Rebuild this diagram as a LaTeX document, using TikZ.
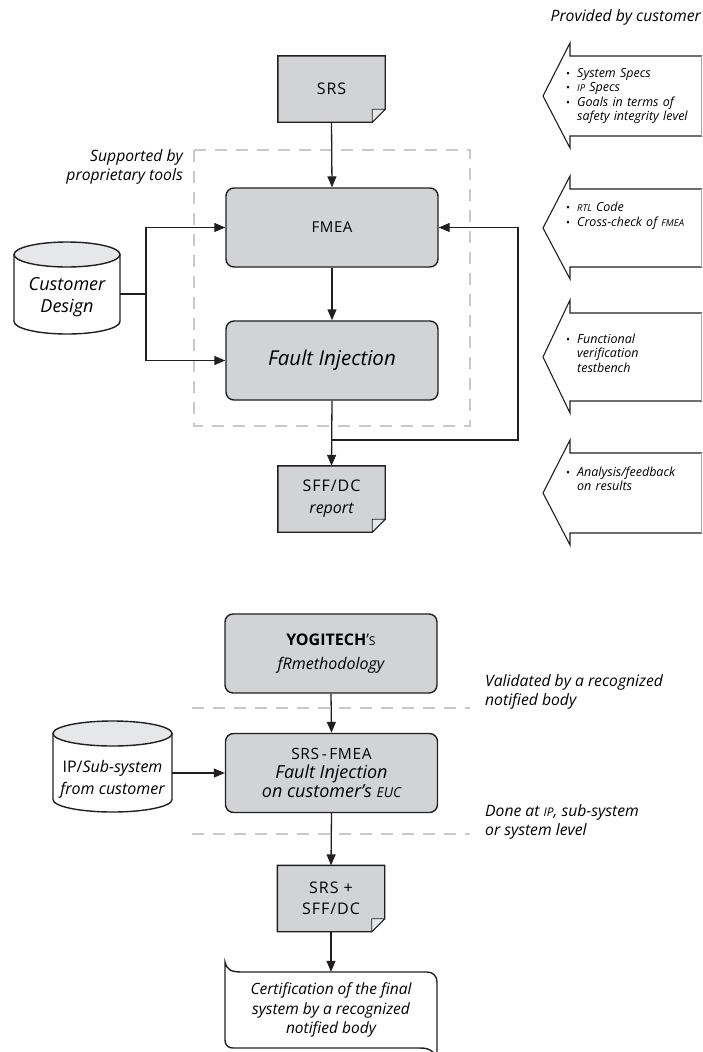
\documentclass[tikz,border=0pt]{standalone}
\usepackage{fontspec}
\usepackage{graphicx}
\setmainfont{Open Sans}
\usetikzlibrary{arrows.meta,backgrounds}
\definecolor{ink}{HTML}{231F20}
\definecolor{boxgray}{HTML}{D1D3D4}
\definecolor{lightfill}{HTML}{E6E7E8}
\definecolor{dashgray}{HTML}{C8C9CA}
\definecolor{edgegray}{HTML}{A7A9AC}
\newcommand\smc[1]{\scalebox{0.76}{#1}}
\newcommand\capsfont{\fontsize{16}{21}\selectfont\addfontfeatures{LetterSpace=6}}
\newcommand\notefont{\fontsize{15.7}{19}\selectfont\itshape}
\newcommand\arrfont{\fontsize{12.5}{14.5}\selectfont\itshape}
\newcommand\bul{\makebox[12pt][l]{\hspace{1pt}{\upshape\scalebox{0.85}{\textbullet}}}}
\newcommand\bitem[1]{\noindent\bul\parbox[t]{120pt}{\raggedright #1}\par}
\newcommand\docshape[1]{%
  \begin{scope}[on background layer]
    \filldraw[docline] (#1.north west) -- (#1.north east) -- ([yshift=13pt]#1.south east)
      -- ([xshift=-13pt]#1.south east) -- (#1.south west) -- cycle;
    \filldraw[foldline] ([xshift=-13pt]#1.south east) -- ([xshift=-13pt,yshift=13pt]#1.south east)
      -- ([yshift=13pt]#1.south east) -- cycle;
  \end{scope}}
\newcommand\blockarrow[2]{%
  \draw[blockline] (702,#1) -- (570,#1) -- (570,#1-13) -- (543,{(#1+#2)/2}) -- (570,#2+12) -- (570,#2) -- (702,#2);
  \draw[edgeline] (701.5,#1) -- (701.5,#2);}
\tikzset{
  box/.style={draw=ink, fill=boxgray, line width=1.4pt, rounded corners=8pt,
    minimum width=212pt, minimum height=79pt, align=center, inner sep=0pt},
  docnode/.style={minimum width=107pt, minimum height=66pt, align=center, inner sep=0pt},
  docline/.style={draw=ink, fill=boxgray, line width=1.4pt},
  foldline/.style={draw=ink, fill=lightfill, line width=0.8pt},
  cylline/.style={draw=ink, line width=1.4pt},
  arr/.style={draw=ink, line width=1.3pt, -{Triangle[length=11pt,width=9pt]}},
  conn/.style={draw=ink, line width=1.3pt},
  gdash/.style={draw=dashgray, line width=2pt, dash pattern=on 12pt off 9pt},
  blockline/.style={draw=ink, line width=1.1pt},
  edgeline/.style={draw=edgegray, line width=0.8pt},
  note/.style={font=\notefont, inner sep=0pt},
  arrtext/.style={font=\arrfont, inner sep=0pt, text width=132pt, anchor=west},
}
\begin{document}
\begin{tikzpicture}[x=1pt,y=-1pt]
\useasboundingbox (0,0) rectangle (702,1052);

% ---------- upper part ----------
\node[note, anchor=east] (prov) at (701,17) {Provided by customer};
\node[note, anchor=east, align=right] (supp) at (183,167) {Supported by\\proprietary tools};
\draw[gdash] (194,150) rectangle (470,426);

\node[docnode, font=\capsfont] (srs) at (331.5,89) {SRS};
\docshape{srs}
\node[box, font=\fontsize{15}{20}\selectfont\addfontfeatures{LetterSpace=4}] (fmea) at (332,227.5) {FMEA};
\node[box, font=\fontsize{20.5}{24}\selectfont\itshape] (fi) at (332,360.5) {Fault Injection};
\node[docnode, font=\fontsize{16}{22}\selectfont] (sff) at (331.5,499) {{\addfontfeatures{LetterSpace=6}SFF/DC}\\{\itshape report}};
\docshape{sff}

% cylinder: Customer Design
\filldraw[cylline, fill=white] (14,254.5) -- (14,321.5)
  arc[start angle=180, end angle=360, x radius=53pt, y radius=12.5pt] -- (120,254.5) -- cycle;
\filldraw[cylline, fill=lightfill] (67,254.5) ellipse [x radius=53pt, y radius=12.5pt];
\node[minimum width=106pt, inner sep=0pt, align=center, font=\fontsize{18}{22}\selectfont\itshape] (cd) at (67,297)
  {Customer\\Design};

\coordinate (j1) at (146,294);
\draw[conn] (cd.east |- j1) -- (j1);
\draw[arr] (j1) |- (fmea.west);
\draw[arr] (j1) |- (fi.west);
\draw[arr] (srs.south) -- (fmea.north);
\draw[arr] (fmea.south) -- (fi.north);
\draw[arr] (fi.south) -- (sff.north);
\coordinate (j2) at (332,440);
\coordinate (j3) at (518,440);
\draw[arr] (j2) -- (j3) |- (fmea.east);

% block arrows
\blockarrow{56}{136}
\blockarrow{189}{267}
\blockarrow{313}{401}
\blockarrow{453}{533}
\node[arrtext] (t1) at (565,96) {\bitem{System Specs}\bitem{\smc{IP} Specs}\bitem{Goals in terms of\\safety integrity level}};
\node[arrtext] (t2) at (565,216) {\bitem{\smc{RTL} Code}\bitem{Cross-check of \smc{FMEA}}};
\node[arrtext] (t3) at (565,353) {\bitem{Functional\\verification\\testbench}};
\node[arrtext] (t4) at (565,479) {\bitem{Analysis/feedback\\on results}};

% ---------- lower part ----------
\node[box, font=\fontsize{16}{24}\selectfont] (yogi) at (331,653.5) {{\bfseries YOGITECH}’\smc{S}\\{\itshape fRmethodology}};
\draw[gdash] (192,708) -- (470,708);
\node[note, anchor=west, align=left] (valid) at (485,692) {Validated by a recognized\\notified body};

\node[box, font=\fontsize{18}{19}\selectfont] (fm2) at (331.5,773) {{\fontsize{15.5}{19}\selectfont\addfontfeatures{LetterSpace=4}SRS\,-\,FMEA}\\{\itshape Fault Injection}\\{\itshape on customer’s \smc{EUC}}};

% cylinder: IP/Sub-system
\filldraw[cylline, fill=white] (53,733.5) -- (53,799.5)
  arc[start angle=180, end angle=360, x radius=59.5pt, y radius=12.5pt] -- (172,733.5) -- cycle;
\filldraw[cylline, fill=lightfill] (112.5,733.5) ellipse [x radius=59.5pt, y radius=12.5pt];
\node[minimum width=119pt, inner sep=0pt, align=center, font=\fontsize{16}{22}\selectfont] (ip) at (112.5,779)
  {IP/{\itshape Sub-system}\\{\itshape from customer}};
\draw[arr] (ip.east |- fm2.west) -- (fm2.west);

\draw[gdash] (192,834) -- (470,834);
\node[note, anchor=west, align=left] (done) at (485,822) {Done at \smc{IP}, sub-system\\or system level};

\node[docnode, font=\capsfont] (doc2) at (331,898.5) {SRS +\\SFF/DC};
\docshape{doc2}

\node[minimum width=212pt, minimum height=76pt, inner sep=0pt, align=center, font=\fontsize{15.5}{19.5}\selectfont\itshape] (cert) at (331,1010)
  {Certification of the final\\system by a recognized\\notified body};
\begin{scope}[on background layer]
\draw[cylline, fill=white] (225,1040) -- (225,962) .. controls (227,970) and (231,972) .. (242,972)
  -- (427,972) .. controls (433,972) and (437,976) .. (437,982) -- (437,1062)
  .. controls (435,1052) and (431,1048) .. (420,1048) -- (233,1048)
  .. controls (228,1048) and (225,1045) .. (225,1040) -- cycle;
\end{scope}
\draw[arr] (doc2.south) -- (cert.north);
\draw[arr] (fm2.south) -- (doc2.north);
\draw[arr] (yogi.south) -- (fm2.north);
\end{tikzpicture}
\end{document}
